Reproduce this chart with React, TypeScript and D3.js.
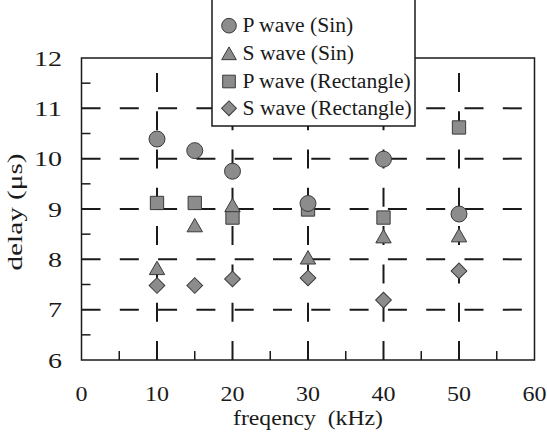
import React from "react";
import * as d3 from "d3";

const freqs = [10, 15, 20, 30, 40, 50];
const pSin = [10.39, 10.16, 9.75, 9.11, 9.99, 8.9];
const sSin = [7.83, 8.68, 9.08, 8.04, 8.46, 8.48];
const pRect = [9.12, 9.12, 8.83, 8.99, 8.83, 10.62];
const sRect = [7.48, 7.48, 7.61, 7.63, 7.19, 7.77];
const seriesNames = ["P wave (Sin)", "S wave (Sin)", "P wave (Rectangle)", "S wave (Rectangle)"];
const xTicks = [0, 10, 20, 30, 40, 50, 60];
const yTicks = [6, 7, 8, 9, 10, 11, 12];

const W = 547;
const H = 432;
const FONT = "'Liberation Serif', 'Times New Roman', serif";
const FILL = "#8c8c8c";
const STROKE = "#3a3a3a";

type Kind = "circle" | "triangle" | "square" | "diamond";

function markerPath(kind: Kind, s = 1): string {
  if (kind === "circle") return d3.symbol().type(d3.symbolCircle).size(200 * s * s)()!;
  if (kind === "square") return d3.symbol().type(d3.symbolSquare).size(177 * s * s)()!;
  if (kind === "diamond") return d3.symbol().type(d3.symbolSquare).size(123 * s * s)()!;
  const w = 15.4 * s;
  const h = 13.4 * s;
  return `M0,${-h / 2}L${w / 2},${h / 2}L${-w / 2},${h / 2}Z`;
}

function Marker({ kind, x, y, s = 1 }: { kind: Kind; x: number; y: number; s?: number }) {
  return (
    <path
      d={markerPath(kind, s)}
      transform={`translate(${x},${y})${kind === "diamond" ? " rotate(45)" : ""}`}
      fill={FILL}
      stroke={STROKE}
      strokeWidth={1}
    />
  );
}

export default function App() {
  const x = d3.scaleLinear().domain([0, 60]).range([81.5, 534.5]);
  const y = d3.scaleLinear().domain([6, 12]).range([360, 58]);
  const [x0, x1] = x.range();
  const [y0, y1] = y.range();
  const dash = "19 19.3";

  const xMinor = d3.range(5, 60, 10);
  const yMinor = d3.range(6.5, 12, 1);
  const gridX = xTicks.filter((t) => t > 0 && t < 60);
  const gridY = yTicks.filter((t) => t > 6 && t < 12);

  const order: { kind: Kind; vals: number[] }[] = [
    { kind: "square", vals: pRect },
    { kind: "diamond", vals: sRect },
    { kind: "triangle", vals: sSin },
    { kind: "circle", vals: pSin },
  ];
  const legendKinds: Kind[] = ["circle", "triangle", "square", "diamond"];
  const legendY = [25.7, 53.3, 81.5, 108.3];

  return (
    <svg width={W} height={H} style={{ position: "absolute", left: 0, top: 0, background: "#fff" }}>
      <rect x={0} y={0} width={W} height={H} fill="#fff" />
      {/* gridlines */}
      {gridY.map((t) => (
        <line key={"gy" + t} x1={x0} x2={x1} y1={y(t)} y2={y(t)} stroke="#1a1a1a" strokeWidth={2} strokeDasharray={dash} />
      ))}
      {gridX.map((t) => (
        <line key={"gx" + t} x1={x(t)} x2={x(t)} y1={y0} y2={y1} stroke="#1a1a1a" strokeWidth={2} strokeDasharray={dash} />
      ))}
      {/* minor ticks */}
      {xMinor.map((t) => (
        <line key={"mx" + t} x1={x(t)} x2={x(t)} y1={y0} y2={y0 - 9} stroke="#1a1a1a" strokeWidth={1.5} />
      ))}
      {yMinor.map((t) => (
        <line key={"my" + t} x1={x0} x2={x0 + 9} y1={y(t)} y2={y(t)} stroke="#1a1a1a" strokeWidth={1.5} />
      ))}
      {/* frame */}
      <rect x={x0} y={y1} width={x1 - x0} height={y0 - y1} fill="none" stroke="#1a1a1a" strokeWidth={1.5} />
      {/* markers */}
      {order.map((s) =>
        s.vals.map((v, i) => <Marker key={s.kind + i} kind={s.kind} x={x(freqs[i])} y={y(v)} />)
      )}
      {/* tick labels */}
      {xTicks.map((t) => {
        const str = String(t);
        return (
          <text key={"xt" + t} x={x(t)} y={401} textAnchor="middle" fontFamily={FONT} fontSize={22}
            textLength={12 * str.length} lengthAdjust="spacingAndGlyphs" fill="#1a1a1a">
            {str}
          </text>
        );
      })}
      {yTicks.map((t) => {
        const str = String(t);
        return (
          <text key={"yt" + t} x={62} y={y(t)} dy="0.35em" textAnchor="end" fontFamily={FONT} fontSize={22}
            textLength={14 * str.length} lengthAdjust="spacingAndGlyphs" fill="#1a1a1a">
            {str}
          </text>
        );
      })}
      {/* axis titles */}
      <text x={(x0 + x1) / 2} y={425} textAnchor="middle" fontFamily={FONT} fontSize={22}
        textLength={150} lengthAdjust="spacingAndGlyphs" fill="#1a1a1a" style={{ whiteSpace: "pre" }}>
        {"freqency  (kHz)"}
      </text>
      <text transform={`translate(22,${(y0 + y1) / 2 + 3}) rotate(-90)`} textAnchor="middle" fontFamily={FONT}
        fontSize={22} textLength={117} lengthAdjust="spacingAndGlyphs" fill="#1a1a1a">
        delay (μs)
      </text>
      {/* legend */}
      <rect x={212} y={-2} width={203} height={128} fill="#fff" stroke="#1a1a1a" strokeWidth={1.5} />
      {seriesNames.map((name, i) => (
        <g key={name}>
          <Marker kind={legendKinds[i]} x={229} y={legendY[i]} s={legendKinds[i] === "circle" ? 0.92 : 0.95} />
          <text x={242.5} y={legendY[i] + 6.5} fontFamily={FONT} fontSize={21.6} fill="#1a1a1a">
            {name}
          </text>
        </g>
      ))}
    </svg>
  );
}
